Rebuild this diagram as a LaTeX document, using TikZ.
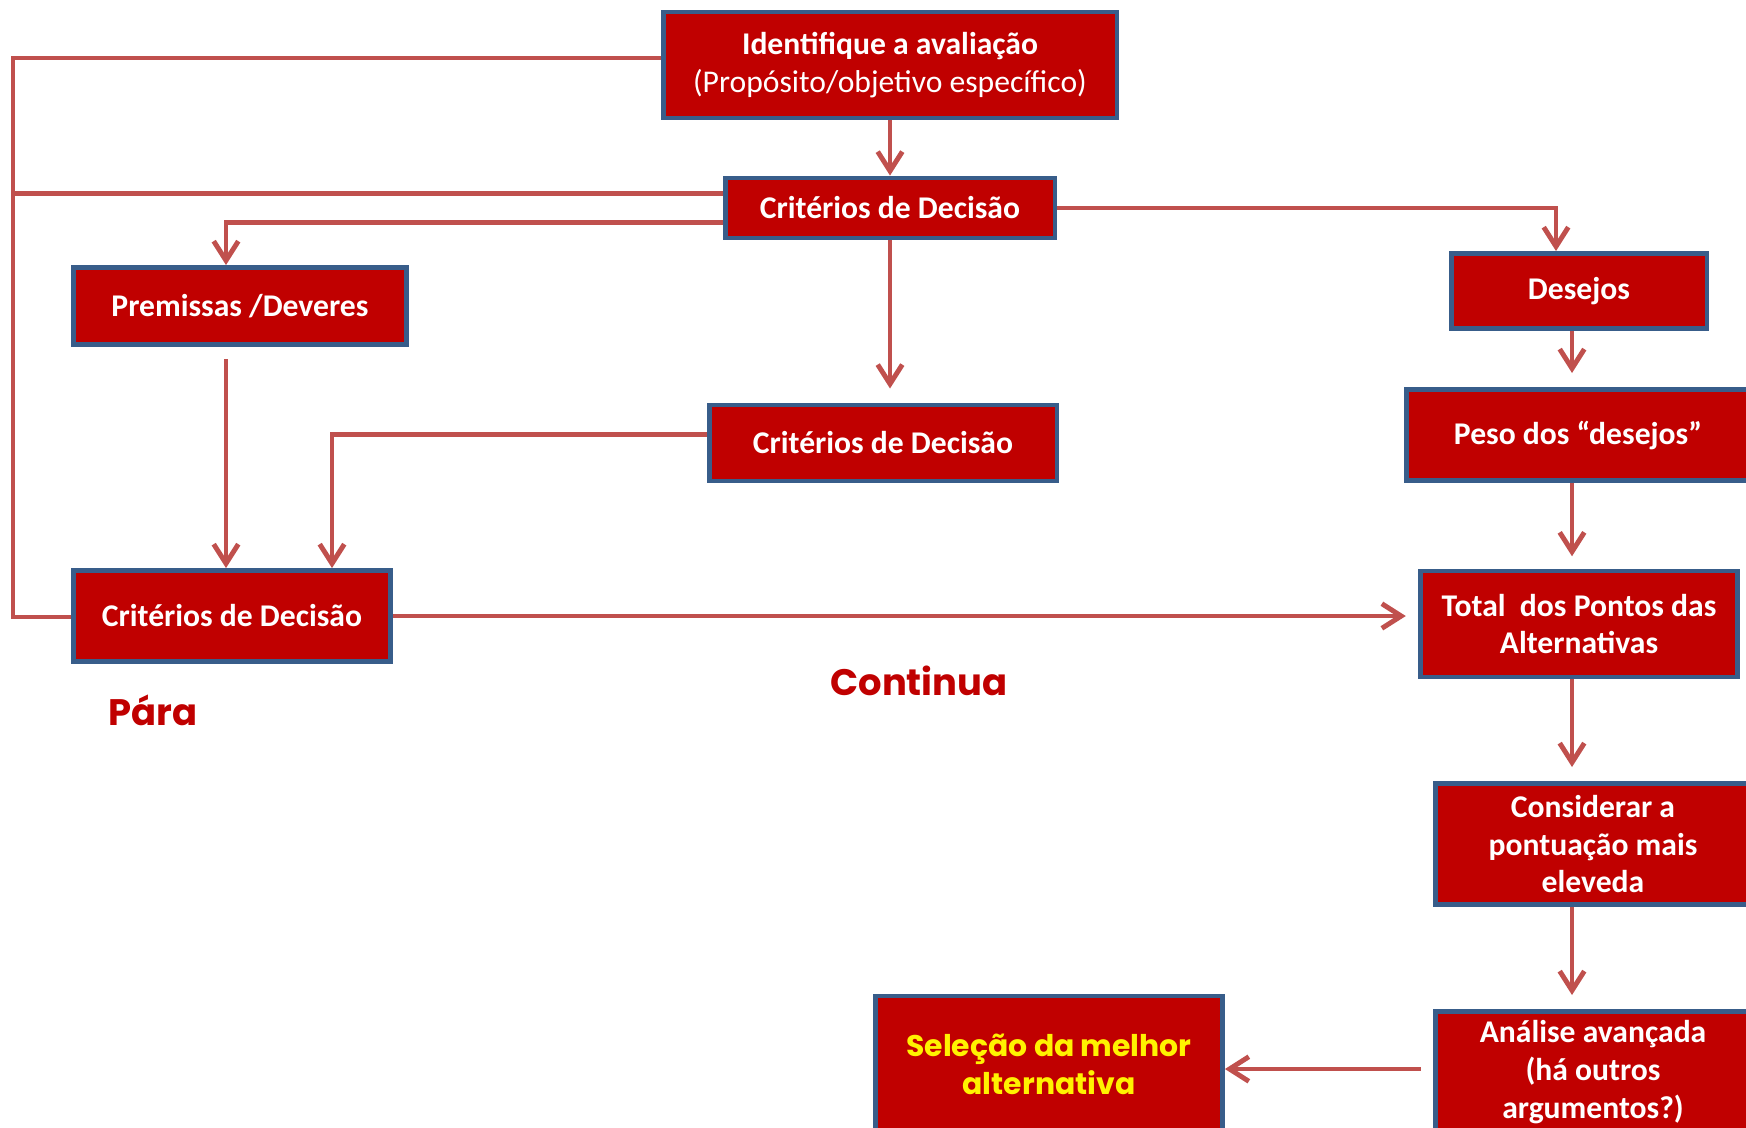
\documentclass[tikz,border=0pt]{standalone}
\usepackage{fontspec}
\setmainfont{Carlito}
\newfontfamily\comicfont{Poppins}
\usepackage{tikz}
\usetikzlibrary{arrows.meta}
\definecolor{boxred}{HTML}{C00000}
\definecolor{boxblue}{HTML}{385D8A}
\definecolor{linered}{HTML}{C0504D}
\tikzstyle{etapa}=[rectangle,
line width=2.8pt,
draw=boxblue,
fill=boxred,
text=white,
align=center,
inner sep=0pt,
font=\bfseries\fontsize{18}{21.5}\selectfont]
\tikzstyle{ligacao}=[line width=2.8pt,
draw=linered]
\tikzstyle{seta}=[ligacao,
->]
\tikzstyle{aviso}=[text=boxred,
font=\comicfont\bfseries\fontsize{21}{25}\selectfont]

\begin{document}
\begin{tikzpicture}[x=0.02cm,y=-0.02cm,>={Straight Barb[length=11pt,width=14pt]}]
		% page frame, same size as the slide
		\useasboundingbox (0,0) rectangle (1746,1127);
		\clip (0,0) rectangle (1746,1127);
		
		% Left part: purpose, criteria and musts
		\node (ident) [etapa,minimum width=9.08cm,minimum height=2.12cm] at (890,65)
		{Identifique a avaliação\\{\mdseries (Propósito/objetivo específico)}};
		\node (crit_a) [etapa,minimum width=6.6cm,minimum height=1.2cm] at (890,208) {Critérios de Decisão};
		\node (prem) [etapa,minimum width=6.66cm,minimum height=1.54cm] at (240,306) {Premissas /Deveres};
		\node (crit_b) [etapa,minimum width=6.96cm,minimum height=1.52cm] at (883,443) {Critérios de Decisão};
		\node (crit_c) [etapa,minimum width=6.34cm,minimum height=1.82cm] at (232,616) {Critérios de Decisão};
		
		% Right column: wishes down to the choice
		\node (des) [etapa,minimum width=5.12cm,minimum height=1.5cm] at (1579,291) {Desejos};
		\node (peso) [etapa,minimum width=6.88cm,minimum height=1.82cm] at (1578,435) {Peso dos “desejos”};
		\node (total) [etapa,minimum width=6.34cm,minimum height=2.12cm] at (1579,624) {Total\ \ dos Pontos das\\Alternativas};
		\node (cons) [etapa,minimum width=6.3cm,minimum height=2.42cm] at (1593,844) {Considerar a\\pontuação mais\\eleveda};
		\node (anal) [etapa,minimum width=6.3cm,minimum height=2.42cm] at (1593,1072) {Análise avançada\\(há outros\\argumentos?)};
		\node (sel) [etapa,minimum width=6.94cm,minimum height=2.72cm,text=yellow,
		font=\comicfont\bfseries\fontsize{17}{21.5}\selectfont] at (1049,1064) {Seleção da melhor\\alternativa};
		
		% The two outcomes
		\node (para) [aviso] at (153,710) {Pára};
		\node (cont) [aviso] at (919,681) {Continua};
		
		% corner points of the connectors
		\coordinate (lado_b) at (13,617);
		\coordinate (col_p) at (226,0);
		\coordinate (col_m) at (332,0);
		\coordinate (col_c) at (890,0);
		\coordinate (col_d) at (1556,0);
		\coordinate (col_r) at (1572,0);
		\coordinate (lin_s) at (0,1069);
		
		% The loop back on the left
		\draw[ligacao] ([yshift=4pt]ident.west) -| (lado_b) -- (crit_c.west |- lado_b);
		\draw[ligacao] ([yshift=8.5pt]crit_a.west) -| (lado_b);
		
		% The arrows
		\draw[seta] (ident) -- (crit_a);
		\draw[seta] ([yshift=-8.5pt]crit_a.west) -| (col_p |- prem.north);
		\draw[seta,shorten >=8pt] (col_c |- crit_a.south) -- (col_c |- crit_b.north);
		\draw[seta] (crit_a.east) -| (col_d |- des.north);
		\draw[seta,shorten <=7pt] (col_p |- prem.south) -- (col_p |- crit_c.north);
		\draw[seta] ([yshift=5pt]crit_b.west) -| (col_m |- crit_c.north);
		\draw[seta,shorten >=7pt] (crit_c.east) -- (crit_c.east -| total.west);
		\draw[seta,shorten >=8pt] (col_r |- des.south) -- (col_r |- peso.north);
		\draw[seta,shorten >=7pt] (col_r |- peso.south) -- (col_r |- total.north);
		\draw[seta,shorten >=8pt] (col_r |- total.south) -- (col_r |- cons.north);
		\draw[seta,shorten >=8pt] (col_r |- cons.south) -- (col_r |- anal.north);
		\draw[seta,shorten <=7pt] (anal.west |- lin_s) -- (sel.east |- lin_s);
\end{tikzpicture}
\end{document}
